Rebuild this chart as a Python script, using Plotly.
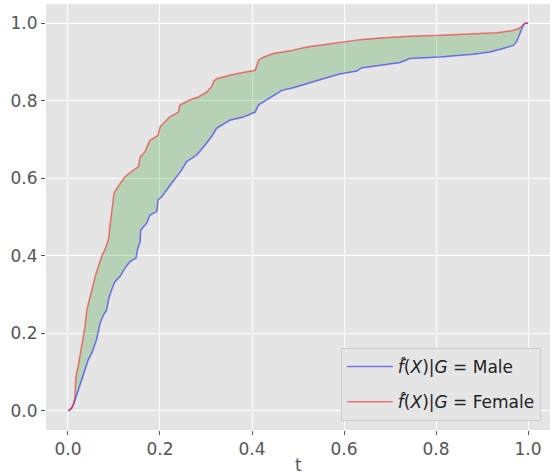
import plotly.graph_objects as go

# Male curve (blue)
male_t = [0, 0.004, 0.012, 0.019, 0.026, 0.037, 0.044, 0.052, 0.062, 0.070, 0.077, 0.084, 0.088,
          0.095, 0.102, 0.113, 0.124, 0.135, 0.148, 0.151, 0.157, 0.158, 0.171, 0.178, 0.193,
          0.196, 0.204, 0.222, 0.236, 0.247, 0.258, 0.280, 0.298, 0.312, 0.323, 0.352, 0.381,
          0.407, 0.414, 0.432, 0.454, 0.465, 0.490, 0.519, 0.555, 0.591, 0.628, 0.638, 0.678,
          0.722, 0.743, 0.809, 0.881, 0.917, 0.946, 0.968, 0.975, 0.983, 0.990, 0.993, 1.0]
male_v = [0, 0.001, 0.015, 0.041, 0.067, 0.106, 0.131, 0.149, 0.183, 0.226, 0.247, 0.260, 0.286,
          0.312, 0.333, 0.346, 0.368, 0.385, 0.394, 0.415, 0.437, 0.466, 0.484, 0.505, 0.514,
          0.544, 0.552, 0.582, 0.604, 0.621, 0.643, 0.660, 0.686, 0.707, 0.729, 0.750, 0.758,
          0.771, 0.789, 0.802, 0.817, 0.827, 0.834, 0.845, 0.857, 0.869, 0.877, 0.885, 0.891,
          0.899, 0.909, 0.913, 0.920, 0.926, 0.935, 0.943, 0.952, 0.977, 0.996, 1.0, 1.0]

# Female curve (red)
female_t = [0, 0.009, 0.015, 0.017, 0.022, 0.030, 0.037, 0.041, 0.048, 0.053, 0.059, 0.066, 0.073,
            0.080, 0.088, 0.091, 0.095, 0.097, 0.100, 0.106, 0.124, 0.138, 0.153, 0.157, 0.167,
            0.175, 0.178, 0.196, 0.200, 0.211, 0.222, 0.240, 0.243, 0.265, 0.283, 0.302, 0.312,
            0.317, 0.323, 0.352, 0.374, 0.407, 0.414, 0.425, 0.446, 0.483, 0.519, 0.555, 0.591,
            0.635, 0.678, 0.722, 0.743, 0.809, 0.881, 0.932, 0.961, 0.979, 0.990, 0.993, 1.0]
female_v = [0, 0.007, 0.033, 0.088, 0.114, 0.166, 0.217, 0.260, 0.295, 0.320, 0.346, 0.372, 0.398,
            0.415, 0.443, 0.475, 0.520, 0.540, 0.561, 0.574, 0.604, 0.617, 0.630, 0.655, 0.668,
            0.690, 0.698, 0.711, 0.733, 0.746, 0.759, 0.771, 0.789, 0.802, 0.810, 0.823, 0.836,
            0.851, 0.857, 0.866, 0.872, 0.879, 0.905, 0.913, 0.922, 0.929, 0.939, 0.945, 0.950,
            0.958, 0.962, 0.966, 0.967, 0.969, 0.972, 0.976, 0.980, 0.986, 0.996, 1.0, 1.0]

tick_vals = [0.0, 0.2, 0.4, 0.6, 0.8, 1.0]
tick_text = ["0.0", "0.2", "0.4", "0.6", "0.8", "1.0"]

label_male = "<i>f\u0302</i>(<i>X</i>)|<i>G</i> = Male"
label_female = "<i>f\u0302</i>(<i>X</i>)|<i>G</i> = Female"

fig = go.Figure()
fig.add_trace(go.Scatter(x=male_t, y=male_v, mode="lines", name=label_male,
                         line=dict(color="rgba(0,0,255,0.5)", width=1.5),
                         legendgroup="m"))
fig.add_trace(go.Scatter(x=female_t, y=female_v, mode="lines", showlegend=False,
                         line=dict(color="rgba(0,0,0,0)", width=0),
                         fill="tonexty", fillcolor="rgba(0,128,0,0.2)",
                         hoverinfo="skip", legendgroup="f"))
fig.add_trace(go.Scatter(x=female_t, y=female_v, mode="lines", name=label_female,
                         line=dict(color="rgba(255,0,0,0.5)", width=1.5),
                         legendgroup="f"))

axis_common = dict(
    showgrid=True, gridcolor="white", gridwidth=1, zeroline=False, automargin=False,
    showline=False, ticks="outside", ticklen=4, tickcolor="#555555", tickwidth=1,
    tickfont=dict(family="DejaVu Sans", size=17, color="#555555"),
    tickvals=tick_vals, ticktext=tick_text,
)

fig.update_layout(
    width=550, height=476,
    margin=dict(l=46, r=0, t=4, b=46),
    paper_bgcolor="white", plot_bgcolor="#E5E5E5",
    xaxis=dict(range=[-0.0478, 1.0478], **axis_common),
    yaxis=dict(range=[-0.05, 1.05], **axis_common),
    legend=dict(x=0.585, y=0.021, xanchor="left", yanchor="bottom", traceorder="grouped",
                bgcolor="#E5E5E5", bordercolor="#CCCCCC", borderwidth=1,
                itemwidth=46, tracegroupgap=10,
                font=dict(family="DejaVu Sans", size=17, color="#222222")),
    showlegend=True,
    annotations=[dict(text="t", xref="paper", yref="paper", x=0.5, y=-0.082,
                      xanchor="center", yanchor="middle", showarrow=False,
                      font=dict(family="DejaVu Sans", size=17, color="#555555"))],
)

fig.write_html("out.html", config={"displayModeBar": False},
               post_script="document.body.style.margin='0';document.body.style.overflow='hidden';")
